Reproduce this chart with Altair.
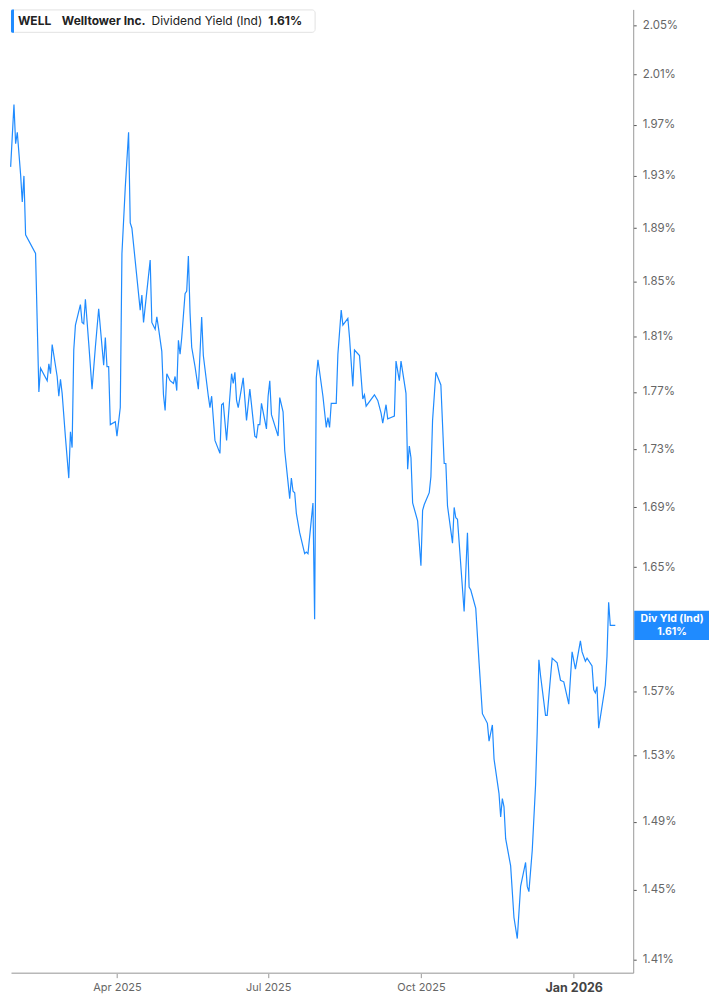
import pandas as pd
import altair as alt

# WELL dividend yield (indicated)
dates = [
    "2025-01-27", "2025-01-29", "2025-01-30", "2025-01-31", "2025-02-02", "2025-02-03", "2025-02-04", "2025-02-05", "2025-02-11", "2025-02-13",
    "2025-02-14", "2025-02-18", "2025-02-19", "2025-02-20", "2025-02-21", "2025-02-24", "2025-02-25", "2025-02-26", "2025-02-27", "2025-03-01",
    "2025-03-03", "2025-03-04", "2025-03-05", "2025-03-06", "2025-03-07", "2025-03-10", "2025-03-11", "2025-03-12", "2025-03-13", "2025-03-15",
    "2025-03-17", "2025-03-19", "2025-03-21", "2025-03-24", "2025-03-25", "2025-03-26", "2025-03-27", "2025-03-28", "2025-03-31", "2025-04-01",
    "2025-04-03", "2025-04-04", "2025-04-06", "2025-04-08", "2025-04-09", "2025-04-10", "2025-04-15", "2025-04-16", "2025-04-17", "2025-04-21",
    "2025-04-22", "2025-04-24", "2025-04-25", "2025-04-26", "2025-04-28", "2025-04-29", "2025-04-30", "2025-05-01", "2025-05-03", "2025-05-05",
    "2025-05-06", "2025-05-07", "2025-05-08", "2025-05-09", "2025-05-10", "2025-05-12", "2025-05-13", "2025-05-14", "2025-05-15", "2025-05-16",
    "2025-05-18", "2025-05-20", "2025-05-22", "2025-05-23", "2025-05-26", "2025-05-27", "2025-05-28", "2025-05-30", "2025-06-02", "2025-06-03",
    "2025-06-04", "2025-06-06", "2025-06-09", "2025-06-10", "2025-06-11", "2025-06-12", "2025-06-13", "2025-06-16", "2025-06-18", "2025-06-20",
    "2025-06-23", "2025-06-24", "2025-06-25", "2025-06-26", "2025-06-27", "2025-06-30", "2025-07-01", "2025-07-02", "2025-07-03", "2025-07-07",
    "2025-07-08", "2025-07-10", "2025-07-11", "2025-07-14", "2025-07-15", "2025-07-16", "2025-07-17", "2025-07-18", "2025-07-20", "2025-07-23",
    "2025-07-24", "2025-07-25", "2025-07-28", "2025-07-29", "2025-07-30", "2025-07-31", "2025-08-03", "2025-08-05", "2025-08-06", "2025-08-07",
    "2025-08-08", "2025-08-11", "2025-08-12", "2025-08-14", "2025-08-15", "2025-08-18", "2025-08-19", "2025-08-21", "2025-08-22", "2025-08-25",
    "2025-08-27", "2025-08-28", "2025-08-29", "2025-09-03", "2025-09-05", "2025-09-07", "2025-09-08", "2025-09-10", "2025-09-11", "2025-09-13",
    "2025-09-15", "2025-09-16", "2025-09-18", "2025-09-19", "2025-09-22", "2025-09-23", "2025-09-24", "2025-09-25", "2025-09-26", "2025-09-29",
    "2025-10-01", "2025-10-02", "2025-10-03", "2025-10-06", "2025-10-07", "2025-10-08", "2025-10-10", "2025-10-13", "2025-10-15", "2025-10-16",
    "2025-10-17", "2025-10-20", "2025-10-21", "2025-10-22", "2025-10-23", "2025-10-27", "2025-10-29", "2025-10-30", "2025-10-31", "2025-11-03",
    "2025-11-05", "2025-11-07", "2025-11-10", "2025-11-11", "2025-11-13", "2025-11-14", "2025-11-17", "2025-11-18", "2025-11-19", "2025-11-20",
    "2025-11-21", "2025-11-24", "2025-11-26", "2025-11-28", "2025-11-30", "2025-12-03", "2025-12-04", "2025-12-05", "2025-12-07", "2025-12-09",
    "2025-12-10", "2025-12-11", "2025-12-12", "2025-12-15", "2025-12-16", "2025-12-19", "2025-12-22", "2025-12-24", "2025-12-26", "2025-12-29",
    "2025-12-31", "2026-01-02", "2026-01-05", "2026-01-06", "2026-01-08", "2026-01-09", "2026-01-12", "2026-01-13", "2026-01-14", "2026-01-15",
    "2026-01-16", "2026-01-20", "2026-01-21", "2026-01-22", "2026-01-23", "2026-01-26",
]

yields = [
    1.937, 1.986, 1.955, 1.964, 1.931, 1.910, 1.930, 1.885, 1.871, 1.770,
    1.787, 1.778, 1.790, 1.783, 1.804, 1.781, 1.767, 1.779, 1.769, 1.738,
    1.710, 1.742, 1.731, 1.800, 1.818, 1.833, 1.820, 1.819, 1.837, 1.805,
    1.772, 1.802, 1.830, 1.789, 1.809, 1.788, 1.788, 1.747, 1.749, 1.739,
    1.759, 1.871, 1.921, 1.964, 1.894, 1.890, 1.829, 1.840, 1.820, 1.866,
    1.820, 1.815, 1.824, 1.816, 1.799, 1.768, 1.757, 1.783, 1.778, 1.776,
    1.781, 1.771, 1.807, 1.797, 1.809, 1.841, 1.843, 1.869, 1.827, 1.802,
    1.788, 1.772, 1.824, 1.796, 1.767, 1.759, 1.767, 1.736, 1.727, 1.761,
    1.762, 1.736, 1.783, 1.776, 1.784, 1.764, 1.759, 1.780, 1.750, 1.772,
    1.739, 1.738, 1.747, 1.747, 1.762, 1.744, 1.767, 1.778, 1.754, 1.739,
    1.766, 1.756, 1.729, 1.696, 1.710, 1.701, 1.700, 1.686, 1.673, 1.659,
    1.660, 1.659, 1.693, 1.616, 1.780, 1.793, 1.767, 1.745, 1.752, 1.745,
    1.762, 1.762, 1.797, 1.829, 1.818, 1.823, 1.809, 1.774, 1.800, 1.796,
    1.765, 1.768, 1.760, 1.768, 1.764, 1.755, 1.748, 1.761, 1.751, 1.752,
    1.753, 1.792, 1.778, 1.792, 1.769, 1.716, 1.732, 1.724, 1.693, 1.681,
    1.651, 1.688, 1.692, 1.700, 1.711, 1.750, 1.784, 1.775, 1.720, 1.720,
    1.691, 1.666, 1.690, 1.683, 1.682, 1.621, 1.673, 1.637, 1.635, 1.623,
    1.588, 1.556, 1.550, 1.539, 1.549, 1.528, 1.507, 1.493, 1.504, 1.499,
    1.480, 1.464, 1.434, 1.422, 1.452, 1.466, 1.452, 1.449, 1.473, 1.512,
    1.545, 1.590, 1.580, 1.555, 1.555, 1.591, 1.588, 1.577, 1.576, 1.562,
    1.595, 1.584, 1.602, 1.595, 1.589, 1.591, 1.586, 1.571, 1.569, 1.573,
    1.547, 1.574, 1.592, 1.627, 1.612, 1.612,
]

# 1.61% sits under the last-value badge, so it is not labelled
y_ticks = [1.41, 1.45, 1.49, 1.53, 1.57, 1.65, 1.69, 1.73, 1.77,
           1.81, 1.85, 1.89, 1.93, 1.97, 2.01, 2.05]
x_ticks = [(2025, 4), (2025, 7), (2025, 10), (2026, 1)]

ticker = "WELL"
company = "Welltower Inc."
metric = "Dividend Yield (Ind)"
short_metric = "Div Yld (Ind)"

BLUE = "#1f8bff"
FONT = "Inter"

df = pd.DataFrame({"date": dates, "value": yields})
last = df.tail(1).copy()
last["label"] = f"{yields[-1]:.2f}%"

x_scale = alt.Scale(
    type="utc",
    domain=[alt.DateTime(year=2025, month=1, date=27, hours=5, utc=True),
            alt.DateTime(year=2026, month=2, date=5, hours=19, utc=True)],
)
y_scale = alt.Scale(type="log", domain=[1.4027, 2.0631], nice=False, zero=False)

is_jan = "utcmonth(datum.value) == 0"
x_axis = alt.Axis(
    values=[alt.DateTime(year=y, month=m, date=1, utc=True) for y, m in x_ticks],
    labelExpr="utcFormat(datum.value, '%b %Y')",
    labelFontWeight={"condition": {"test": is_jan, "value": "bold"}, "value": "normal"},
    labelFontSize={"condition": {"test": is_jan, "value": 12.5}, "value": 11},
    labelColor={"condition": {"test": is_jan, "value": "#444444"}, "value": "#666666"},
    grid=False, domainColor="#b8b8b8", domainWidth=1.5,
    tickColor="#999999", tickSize=5, labelPadding=4, title=None,
)
y_axis = alt.Axis(
    orient="right", values=y_ticks,
    labelExpr="format(datum.value, '.2f') + '%'",
    grid=False, domainColor="#999999", tickColor="#555555", tickSize=3,
    labelPadding=6, labelColor="#666666", labelFontSize=11.5, title=None,
)

line = alt.Chart(df).mark_line(color=BLUE, strokeWidth=1.2).encode(
    x=alt.X("date:T", scale=x_scale, axis=x_axis),
    y=alt.Y("value:Q", scale=y_scale, axis=y_axis),
)

# last value badge on the right axis
badge = alt.Chart(last).mark_rect(color=BLUE, yOffset=-14.7, y2Offset=14.7).encode(
    x=alt.value(625), x2=alt.value(700), y="value:Q", y2="value:Q",
)
badge_top = alt.Chart(last).mark_text(color="white", fontWeight="bold", fontSize=10.5, dy=-6.3).encode(
    x=alt.value(663), y="value:Q", text=alt.value(short_metric),
)
badge_val = alt.Chart(last).mark_text(color="white", fontWeight="bold", fontSize=10.5, dy=6.3).encode(
    x=alt.value(663), y="value:Q", text="label:N",
)

# header legend box
one = pd.DataFrame({"k": [0]})
box = alt.Chart(one).mark_rect(fill="white", stroke="#e2e2e2", strokeWidth=1, cornerRadius=3).encode(
    x=alt.value(0.5), x2=alt.value(305), y=alt.value(0.5), y2=alt.value(23),
)
bar = alt.Chart(one).mark_rect(fill=BLUE, cornerRadiusTopLeft=3, cornerRadiusBottomLeft=3).encode(
    x=alt.value(0), x2=alt.value(3), y=alt.value(0), y2=alt.value(23.5),
)


def head_text(txt, x, bold):
    return alt.Chart(one).mark_text(
        align="left", baseline="middle", fontSize=12, color="#222222",
        fontWeight="bold" if bold else "normal",
    ).encode(x=alt.value(x), y=alt.value(11.5), text=alt.value(txt))


header = (box + bar
          + head_text(ticker, 7, True)
          + head_text(company, 51, True)
          + head_text(metric, 141, False)
          + head_text(f"{yields[-1]:.2f}%", 258, True))

chart = (line + badge + badge_top + badge_val + header).properties(
    width=624, height=966, padding=0,
).configure_view(strokeWidth=0).configure_axis(
    labelFont=FONT,
).configure_text(font=FONT)

chart.save("out.html", embed_options={"renderer": "svg", "actions": False})
